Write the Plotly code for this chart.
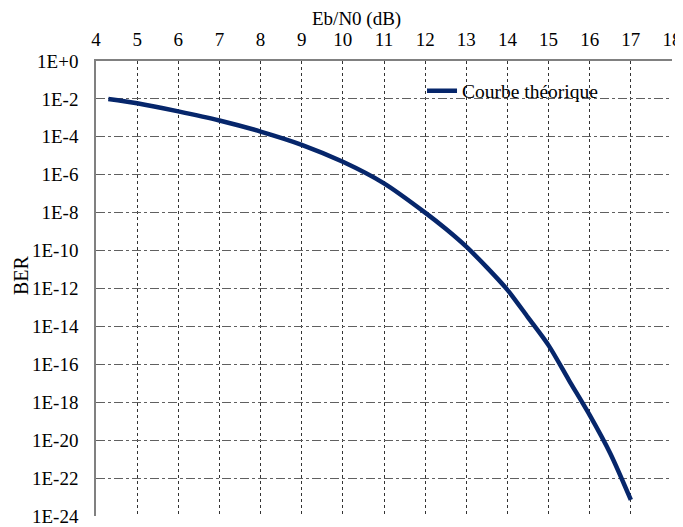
import plotly.graph_objects as go

# Data
ebn0_db = [4.3, 5, 6, 7, 8, 9, 10, 11, 12, 12.5, 13, 13.5, 14, 14.5, 15, 15.5, 16, 16.5, 17.0]
ber = [1.0e-2, 5.9e-3, 2.2e-3, 7.3e-4, 1.9e-4, 3.8e-5, 4.8e-6, 3.5e-7, 1.0e-8, 1.4e-9, 1.6e-10,
       1.3e-11, 8.5e-13, 3.0e-14, 1.0e-15, 1.4e-17, 2.1e-19, 2.0e-21, 7.1e-24]

series_name = "Courbe théorique"
x_title = "Eb/N0 (dB)"
y_title = "BER"
x_ticks = list(range(4, 19))
y_tick_vals = [10.0 ** (-k) for k in range(0, 25, 2)]
y_tick_text = ["1E+0"] + ["1E-%d" % k for k in range(2, 25, 2)]

FONT = "Liberation Serif"

fig = go.Figure()
fig.add_trace(go.Scatter(
    x=ebn0_db, y=ber, mode="lines", name=series_name,
    line=dict(color="#06266b", width=4.5, shape="spline", smoothing=0.8),
))

fig.add_annotation(text=x_title, xref="paper", yref="paper", x=0.4514, y=1.093,
                   xanchor="center", yanchor="middle", showarrow=False,
                   font=dict(family=FONT, size=19, color="black"))
fig.add_annotation(text=y_title, xref="paper", yref="paper", x=-0.1302, y=0.5297,
                   xanchor="center", yanchor="middle", showarrow=False, textangle=-90,
                   font=dict(family=FONT, size=20, color="black"))

fig.update_layout(
    width=675, height=519,
    margin=dict(l=88, r=11, t=53, b=11, autoexpand=False),
    paper_bgcolor="white", plot_bgcolor="white",
    font=dict(family=FONT, color="black", size=18),
    showlegend=True,
    legend=dict(x=0.566, y=0.934, xanchor="left", yanchor="middle",
                font=dict(family=FONT, size=19.5, color="black"),
                bgcolor="rgba(0,0,0,0)", itemwidth=30),
    xaxis=dict(
        side="top", range=[4, 18], tickvals=x_ticks, ticks="",
        tickfont=dict(family=FONT, size=19), ticklabelstandoff=6, automargin=False,
        showgrid=True, gridcolor="#333333", griddash="dot", gridwidth=1,
        showline=True, linecolor="#808080", linewidth=1.5, mirror=False,
        zeroline=False,
    ),
    yaxis=dict(
        type="log", range=[-24, 0], tickvals=y_tick_vals, ticktext=y_tick_text,
        ticks="", tickfont=dict(family=FONT, size=19), ticklabelstandoff=12, automargin=False,
        showgrid=True, gridcolor="#606060", griddash="dashdot", gridwidth=1,
        showline=True, linecolor="#808080", linewidth=1.5, mirror=False,
        zeroline=False,
    ),
)

fig.write_html("out.html")
